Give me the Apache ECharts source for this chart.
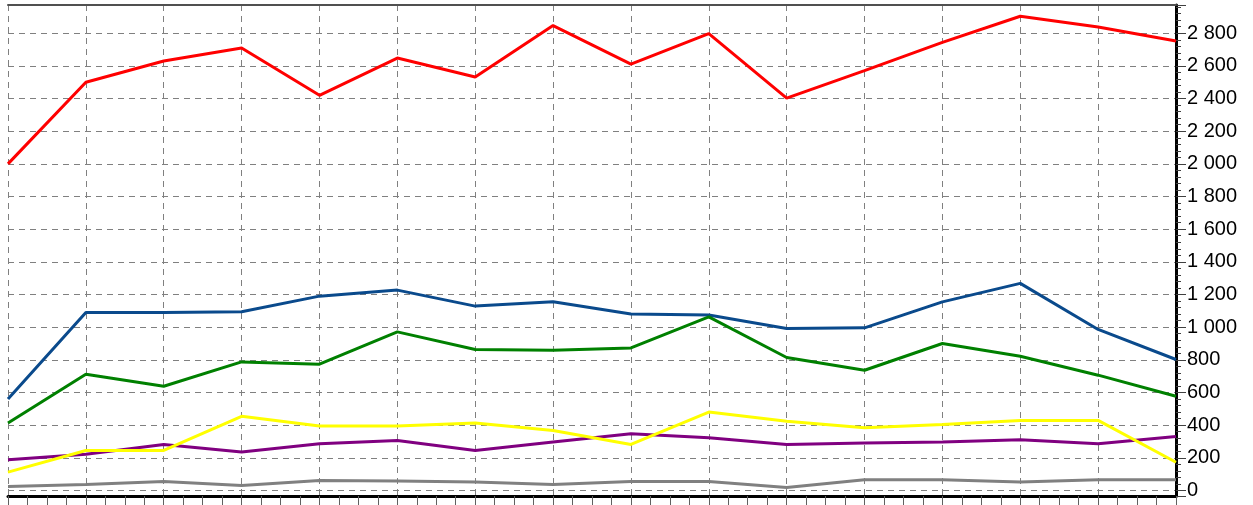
<!DOCTYPE html>
<html>
<head>
<meta charset="utf-8">
<script src="https://cdn.jsdelivr.net/npm/echarts@6/dist/echarts.min.js"></script>
<style>
  html, body { margin: 0; padding: 0; background: #fff; }
  #lineChart { width: 1253px; height: 505px; }
</style>
</head>
<body>
<div id="lineChart"></div>
<script>
// point index along the bottom axis (16 points, no labels shown)
let points = [0, 1, 2, 3, 4, 5, 6, 7, 8, 9, 10, 11, 12, 13, 14, 15];

let redData = [2000, 2500, 2630, 2710, 2420, 2648, 2532, 2847, 2611, 2798, 2403, 2571, 2744, 2904, 2838, 2752];
let blueData = [560, 1090, 1090, 1094, 1190, 1227, 1129, 1155, 1080, 1074, 992, 996, 1155, 1268, 986, 802];
let greenData = [413, 712, 638, 787, 773, 971, 863, 859, 873, 1063, 814, 736, 900, 822, 706, 577];
let yellowData = [112, 245, 245, 454, 395, 395, 413, 367, 282, 480, 424, 384, 404, 429, 429, 173];
let purpleData = [188, 222, 282, 235, 286, 306, 245, 296, 347, 323, 282, 290, 296, 310, 286, 331];
let grayData = [24, 37, 55, 31, 61, 58, 52, 37, 55, 55, 18, 65, 65, 51, 65, 65];

// value range of the y axis
let yMin = -34;
let yMax = 2973;

let dashed = {
  show: true,
  lineStyle: { color: '#808080', type: [6, 5], width: 1 }
};

function pairs(arr) {
  return points.map(function (p, i) { return [p, arr[i]]; });
}

function thousands(v) {
  if (v >= 1000) {
    return Math.floor(v / 1000) + ' ' + String(v % 1000).padStart(3, '0');
  }
  return String(v);
}

function lineSeries(name, color, data) {
  return {
    name: name,
    type: 'line',
    symbol: 'none',
    animation: false,
    lineStyle: { color: color, width: 3 },
    itemStyle: { color: color },
    data: pairs(data)
  };
}

let lineChart = echarts.init(document.getElementById('lineChart'));

let option = {
  animation: false,
  grid: { left: 8, right: 77, top: 5, bottom: 9, containLabel: false },
  xAxis: [
    {
      type: 'value',
      position: 'bottom',
      min: 0,
      max: 15,
      interval: 1,
      axisLine: { onZero: false, lineStyle: { color: '#000', width: 3 } },
      axisTick: { show: true, length: 9, lineStyle: { color: '#606060' } },
      minorTick: { show: true, splitNumber: 4, length: 9, lineStyle: { color: '#606060' } },
      axisLabel: { show: false },
      splitLine: dashed
    },
    {
      type: 'value',
      position: 'top',
      min: 0,
      max: 15,
      axisLine: { onZero: false, lineStyle: { color: '#505050', width: 2 } },
      axisTick: { show: false },
      axisLabel: { show: false },
      splitLine: { show: false }
    }
  ],
  yAxis: {
    type: 'value',
    position: 'right',
    min: yMin,
    max: yMax,
    splitNumber: 15,
    axisLine: { show: true, onZero: false, lineStyle: { color: '#000', width: 3 } },
    axisTick: { show: true, length: 10, lineStyle: { color: '#404040' } },
    minorTick: { show: true, splitNumber: 5, length: 5, lineStyle: { color: '#404040' } },
    axisLabel: {
      show: true,
      margin: 11,
      color: '#000',
      fontSize: 20,
      fontFamily: 'Liberation Sans, Arial, sans-serif',
      showMinLabel: false,
      showMaxLabel: false,
      formatter: thousands
    },
    splitLine: dashed
  },
  series: [
    lineSeries('red', '#ff0000', redData),
    lineSeries('blue', '#0a4a8c', blueData),
    lineSeries('green', '#008000', greenData),
    lineSeries('purple', '#800080', purpleData),
    lineSeries('yellow', '#ffff00', yellowData),
    lineSeries('gray', '#808080', grayData)
  ]
};

lineChart.setOption(option);
</script>
</body>
</html>
